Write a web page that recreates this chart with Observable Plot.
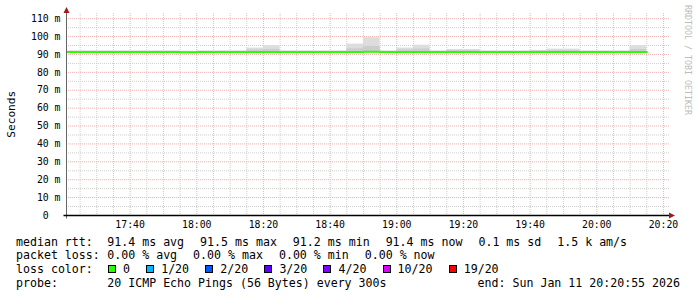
<!DOCTYPE html>
<html><head><meta charset="utf-8">
<script src="https://cdn.jsdelivr.net/npm/d3@7"></script>
<script src="https://cdn.jsdelivr.net/npm/@observablehq/plot@0.6"></script>
<style>
body{margin:0;background:#fff;}
#wrap{position:relative;width:697px;height:297px;overflow:hidden;background:#fff;font-family:"DejaVu Sans Mono",monospace;}
#chart{position:absolute;left:0;top:0;}
.row{position:absolute;left:16px;right:17px;height:14px;line-height:14px;font-size:11.6px;white-space:pre;color:#000;display:flex;align-items:center;}
.lab{display:inline-block;width:91.3px;}
.item{margin-right:16px;}
.sq{display:inline-block;box-sizing:border-box;width:8px;height:8px;border:1px solid #000;margin-left:0.7px;margin-right:7px;}
.end{margin-left:auto;}
#wm{position:absolute;left:683px;top:5px;writing-mode:vertical-rl;font-size:8.3px;color:#bcbcbc;white-space:pre;line-height:10px;}
</style></head>
<body><div id="wrap"><div id="chart"></div><div id="legend"></div><div id="wm">RRDTOOL / TOBI OETIKER</div></div>
<script>
// ---- data ----
const sampleTimes = ["17:20","17:25","17:30","17:35","17:40","17:45","17:50","17:55","18:00","18:05",
  "18:10","18:15","18:20","18:25","18:30","18:35","18:40","18:45","18:50","18:55",
  "19:00","19:05","19:10","19:15","19:20","19:25","19:30","19:35","19:40","19:45",
  "19:50","19:55","20:00","20:05","20:10"];
const medianRtt = [91.4,91.4,91.4,91.4,91.4,91.4,91.4,91.2,91.4,91.4,
  91.4,91.4,91.4,91.4,91.4,91.4,91.4,91.4,91.5,91.4,
  91.4,91.4,91.4,91.4,91.4,91.4,91.4,91.4,91.4,91.4,
  91.4,91.4,91.4,91.4,91.4];
const smokeMin = [90.9,90.9,90.9,90.9,90.9,90.9,90.9,90.7,90.9,90.9,
  90.9,90.9,90.9,90.9,90.9,90.9,90.9,90.9,90.9,90.9,
  90.9,90.9,90.9,90.9,90.9,90.9,90.9,90.9,90.9,90.9,
  90.9,90.9,90.9,90.9,90.9];
const smokeInner = [91.8,91.8,91.8,91.8,91.8,91.8,91.8,91.7,91.8,91.8,
  91.8,92.5,92.8,91.8,91.8,91.8,91.8,93.2,94.5,91.8,
  92.5,93.0,91.8,92.2,92.2,91.8,91.8,91.8,92.0,92.2,
  92.2,91.8,91.8,91.8,92.8];
const smokeMax = [91.9,91.9,91.9,91.9,91.9,91.9,91.9,91.8,91.9,91.9,
  91.9,93.6,94.9,91.9,91.9,91.9,91.9,95.8,99.4,91.9,
  93.6,95.2,91.9,92.8,92.8,91.9,91.9,91.9,92.3,93.0,
  93.0,91.9,91.9,91.9,94.9];
const stepMinutes = 5;
const xStart = "17:20:55", xEnd = "20:21:49";
const xTickLabels = ["17:40","18:00","18:20","18:40","19:00","19:20","19:40","20:00","20:20"];
const yTickValues = [0,10,20,30,40,50,60,70,80,90,100,110];
const yTickLabels = ["0\u00a0\u00a0","10 m","20 m","30 m","40 m","50 m","60 m","70 m","80 m","90 m","100 m","110 m"];
const yMax = 112.9;
const yLabel = "Seconds";
const rowLabels = ["median rtt:","packet loss:","loss color:","probe:"];
const rttStats = ["91.4 ms avg","91.5 ms max","91.2 ms min","91.4 ms now","0.1 ms sd","1.5 k am/s"];
const lossStats = ["0.00 % avg","0.00 % max","0.00 % min","0.00 % now"];
const lossLabels = ["0","1/20","2/20","3/20","4/20","10/20","19/20"];
const lossColors = ["#26ff00","#00b8ff","#0059ff","#5e00ff","#7e00ff","#dd00ff","#ff0000"];
const probeText = "20 ICMP Echo Pings (56 Bytes) every 300s";
const endText = "end: Sun Jan 11 20:20:55 2026";

// ---- build ----
(function(){
const t = s => { const [h,m,sec=0] = s.split(":").map(Number); return new Date(2026,0,11,h,m,sec); };
const samples = sampleTimes.map((s,i)=>({start:t(s), end:new Date(+t(s)+stepMinutes*60000),
  med:medianRtt[i], lo:smokeMin[i], mid:smokeInner[i], hi:smokeMax[i]}));
const lineData = samples.map(d=>({x:d.start,y:d.med}));
lineData.push({x:samples[samples.length-1].end, y:samples[samples.length-1].med});
const x0 = t(xStart), x1 = t(xEnd);
const majorX = xTickLabels.map(t);
const xLab = new Map(majorX.map((d,i)=>[+d, xTickLabels[i]]));
const yLab = new Map(yTickValues.map((d,i)=>[d, yTickLabels[i]]));
const minorX = d3.timeMinute.every(5).range(x0, x1).filter(d=>d.getMinutes()%20!==0);
const minorY = yTickValues.map(v=>v+5).filter(v=>v<yMax);
const majorY = yTickValues.filter(v=>v>0);
const dash = "1,1";

const plot = Plot.plot({
  width:697, height:232, marginLeft:66, marginRight:28, marginTop:13, marginBottom:17,
  style:{fontFamily:"DejaVu Sans Mono, monospace", fontSize:"9.8px", color:"#000", background:"transparent", overflow:"visible"},
  x:{type:"time", domain:[x0,x1]},
  y:{domain:[0,yMax]},
  marks:[
    Plot.ruleX(minorX,{stroke:"#cdcdcd", strokeDasharray:dash}),
    Plot.ruleY(minorY,{stroke:"#cdcdcd", strokeDasharray:dash}),
    Plot.ruleX(majorX,{stroke:"#eeb4b4", strokeDasharray:dash}),
    Plot.ruleY(majorY,{stroke:"#eeb4b4", strokeDasharray:dash}),
    Plot.rect(samples,{x1:"start",x2:"end",y1:"lo",y2:"hi",fill:"#dddddd",clip:true}),
    Plot.rect(samples,{x1:"start",x2:"end",y1:"lo",y2:"mid",fill:"#cdcdcd",clip:true}),
    Plot.line(lineData,{x:"x",y:"y",curve:"step-after",stroke:"#26ff00",strokeWidth:2,clip:true}),
    Plot.axisX({ticks:majorX, tickFormat:d=>xLab.get(+d), tickSize:0, tickPadding:6, label:null}),
    Plot.axisY({ticks:yTickValues, tickFormat:d=>yLab.get(d), tickSize:0, tickPadding:6, label:null})
  ]
});
document.getElementById("chart").appendChild(plot);

const sx = plot.scale("x"), sy = plot.scale("y");
const svg = d3.select(plot);
const ax = Math.round(sx.apply(x0)) + 0.5, ay = Math.round(sy.apply(0)) + 0.5;
const yTop = Math.round(sy.apply(yMax)), xRight = Math.round(sx.apply(x1));
svg.append("line").attr("x1",ax).attr("x2",ax).attr("y1",yTop-5).attr("y2",ay+3).attr("stroke","#666");
svg.append("line").attr("x1",ax-3).attr("x2",xRight+1).attr("y1",ay).attr("y2",ay).attr("stroke","#000").attr("stroke-width",1.3);
svg.append("path").attr("d",`M${ax-3},${yTop} L${ax+3},${yTop} L${ax},${yTop-6} Z`).attr("fill","#a01c1c");
svg.append("path").attr("d",`M${xRight},${ay-3} L${xRight},${ay+3} L${xRight+6},${ay} Z`).attr("fill","#a01c1c");
svg.append("text").attr("transform",`translate(11,${(yTop+ay)/2}) rotate(-90)`)
  .attr("text-anchor","middle").attr("dominant-baseline","central")
  .attr("font-size","11.2px").attr("fill","#000").text(yLabel);

// ---- legend ----
const legend = d3.select("#legend");
const rowTops = [234.5, 248, 262, 276];
const rows = rowTops.map((y,i)=>{
  const r = legend.append("div").attr("class","row").style("top",y+"px");
  r.append("span").attr("class","lab").text(rowLabels[i]);
  return r;
});
rttStats.forEach(s=>rows[0].append("span").attr("class","item").text(s));
lossStats.forEach(s=>rows[1].append("span").attr("class","item").text(s));
lossLabels.forEach((s,i)=>{
  rows[2].append("span").attr("class","sq").style("background",lossColors[i]);
  rows[2].append("span").attr("class","item").style("margin-right","15.5px").text(s);
});
rows[3].append("span").text(probeText);
rows[3].append("span").attr("class","end").text(endText);
})();
</script>
</body></html>
